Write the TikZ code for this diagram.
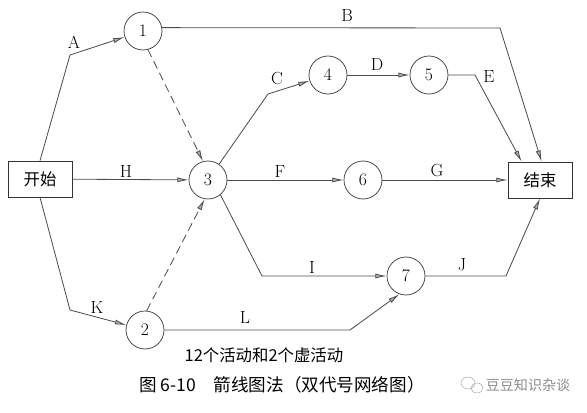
\documentclass[tikz,border=0pt]{standalone}
\usepackage{fontspec}
\newfontfamily\cjk{Noto Sans CJK SC}
\usetikzlibrary{arrows.meta}

\tikzset{
  event/.style={circle, draw=black!80, line width=0.6pt, minimum size=11.4mm, inner sep=0pt, font=\fontsize{15}{17}\selectfont},
  endbox/.style={rectangle, draw=black!80, line width=0.6pt, minimum width=19.2mm, minimum height=10.8mm, font=\cjk\fontsize{14}{16}\selectfont},
  act/.style={draw=black!70, line width=0.7pt, -{Latex[length=3.4mm,width=1.5mm,fill=black!30]}},
  dummy/.style={act, dash pattern=on 7pt off 4pt},
  lbl/.style={font=\fontsize{15}{17}\selectfont, inner sep=0pt},
}

\begin{document}
\begin{tikzpicture}[x=0.3mm, y=-0.3mm]
\useasboundingbox (0,0) rectangle (587,413);
% events
\node[endbox] (start) at (40,179) {开始};
\node[endbox] (finish) at (540,180) {结束};
\node[event] (n1) at (143,31) {1};
\node[event] (n2) at (145,330) {2};
\node[event] (n3) at (208,180) {3};
\node[event] (n4) at (328,75) {4};
\node[event] (n5) at (429,75) {5};
\node[event] (n6) at (363,180) {6};
\node[event] (n7) at (406,276) {7};
% bend points
\coordinate (bA) at (70,55);
\coordinate (bB) at (500,28);
\coordinate (bC) at (268,94);
\coordinate (bE) at (475,75);
\coordinate (bI) at (262,276);
\coordinate (bJ) at (506,276);
\coordinate (bK) at (70,310);
\coordinate (bL) at (350,330);
% activities
\draw[act] (start.north) -- (bA) -- (n1);
\draw[act] (n1.10) -- (bB) -- (finish.85);
\draw[act] (n3.55) -- (bC) -- (n4);
\draw[act] (n4) -- (n5);
\draw[act] (n5.east) -- (bE) -- (finish.135);
\draw[act] (start) -- (n3);
\draw[act] (n3) -- (n6);
\draw[act] (n6) -- (finish);
\draw[act] (n3.-50) -- (bI) -- (n7);
\draw[act] (n7.east) -- (bJ) -- (finish.south);
\draw[act] (start.south) -- (bK) -- (n2);
\draw[act] (n2.east) -- (bL) -- (n7.250);
% dummy activities
\draw[dummy] (n1.285) -- (n3.105);
\draw[dummy] (n2.85) -- (n3.260);
% labels
\node[lbl] (lA) at (74,42) {A};
\node[lbl] (lB) at (347,15) {B};
\node[lbl] (lC) at (277,78) {C};
\node[lbl] (lD) at (377,64) {D};
\node[lbl] (lE) at (489,77) {E};
\node[lbl] (lF) at (280,172) {F};
\node[lbl] (lG) at (437,170) {G};
\node[lbl] (lH) at (126,171) {H};
\node[lbl] (lI) at (312,267) {I};
\node[lbl] (lJ) at (462,265) {J};
\node[lbl] (lK) at (97,307) {K};
\node[lbl] (lL) at (245,317) {L};
% texts
\node[font=\cjk\fontsize{14}{16}\selectfont] (note) at (264,355) {12个活动和2个虚活动};
\node[font=\cjk\fontsize{15}{17}\selectfont] (caption) at (282,385) {图 6-10\quad 箭线图法（双代号网络图）};
\node[font=\cjk\fontsize{12}{14}\selectfont, text=black!45] (mark) at (528,385) {豆豆知识杂谈};
\draw[black!35] (468,383) ellipse (7 and 6);
\draw[black!35] (477,388) ellipse (6 and 5);
\end{tikzpicture}
\end{document}
